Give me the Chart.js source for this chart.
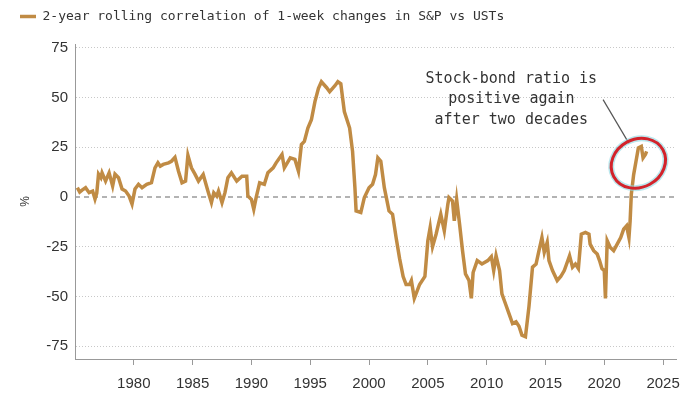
<!DOCTYPE html>
<html>
<head>
<meta charset="utf-8">
<script src="https://cdn.jsdelivr.net/npm/chart.js@4.4.0/dist/chart.umd.min.js"></script>
<style>
  body { margin: 0; background: #fff; }
  #wrap { position: relative; width: 700px; height: 394px; }
</style>
</head>
<body>
<div id="wrap"><canvas id="corrChart"></canvas></div>
<script>
// weekly 2y rolling correlation (year, %)
const years = [
  1975.2, 1975.4, 1975.6, 1975.9, 1976.2, 1976.5, 1976.7, 1976.85, 1977.0, 1977.2,
  1977.3, 1977.6, 1977.9, 1978.2, 1978.4, 1978.7, 1979.0, 1979.3, 1979.6, 1979.85,
  1980.1, 1980.4, 1980.7, 1981.1, 1981.5, 1981.8, 1982.05, 1982.25, 1982.5, 1982.95,
  1983.2, 1983.5, 1983.8, 1984.1, 1984.4, 1984.6, 1984.9, 1985.2, 1985.5, 1985.9,
  1986.3, 1986.6, 1986.8, 1987.05, 1987.2, 1987.5, 1987.75, 1988.0, 1988.3, 1988.75,
  1989.2, 1989.6, 1989.7, 1990.0, 1990.2, 1990.4, 1990.7, 1991.1, 1991.4, 1991.85,
  1992.1, 1992.6, 1992.8, 1993.3, 1993.7, 1994.0, 1994.25, 1994.5, 1994.8, 1995.1,
  1995.4, 1995.7, 1995.95, 1996.1, 1996.4, 1996.65, 1996.9, 1997.1, 1997.35, 1997.6,
  1997.75, 1997.9, 1998.35, 1998.6, 1998.8, 1998.9, 1999.3, 1999.6, 2000.0, 2000.3,
  2000.55, 2000.75, 2001.0, 2001.3, 2001.7, 2002.0, 2002.3, 2002.6, 2002.9, 2003.15,
  2003.45, 2003.6, 2003.85, 2004.3, 2004.75, 2005.0, 2005.2, 2005.4, 2005.7, 2006.1,
  2006.4, 2006.7, 2006.8, 2007.1, 2007.25, 2007.45, 2007.7, 2007.95, 2008.2, 2008.5,
  2008.7, 2008.85, 2009.2, 2009.6, 2010.1, 2010.4, 2010.6, 2010.8, 2011.1, 2011.3,
  2011.6, 2011.9, 2012.2, 2012.5, 2012.75, 2013.0, 2013.3, 2013.6, 2013.9, 2014.2,
  2014.45, 2014.7, 2014.9, 2015.15, 2015.3, 2015.6, 2016.0, 2016.3, 2016.6, 2016.8,
  2017.05, 2017.3, 2017.55, 2017.8, 2018.05, 2018.4, 2018.7, 2018.8, 2019.1, 2019.4,
  2019.6, 2019.8, 2020.0, 2020.1, 2020.25, 2020.5, 2020.8, 2021.1, 2021.4, 2021.65,
  2021.9, 2022.1, 2022.2, 2022.3, 2022.5, 2022.7, 2022.9, 2023.15, 2023.3, 2023.5,
  2023.6
];
const corr = [
  4.7, 2.5, 3.5, 4.7, 2.2, 3, -1, 2, 11.5, 9.7,
  12.2, 8, 12.2, 5.5, 11.5, 9.7, 4, 3, 0.5, -3.5,
  4, 6.4, 4.7, 6.4, 7.2, 14.7, 17.2, 15.5, 16.4, 17.2,
  18, 20, 13, 7.2, 8, 21, 14.7, 11.5, 8, 11.3,
  3, -2.8, 2.2, 0.5, 3, -2.8, 2.2, 9.7, 12.2, 8,
  10.5, 10.5, 0.5, -1.2, -6.2, -0.3, 7.2, 6.4, 12.2, 14.7,
  17.2, 21.4, 14.7, 19.7, 18.9, 13, 26.4, 28, 34.7, 38.9,
  48, 54.7, 58, 57, 55, 53, 54.7, 56, 58, 57,
  50, 43, 34.7, 23, 4.7, -7, -7.8, -0.3, 4.7, 6.4,
  11.3, 19.7, 18, 4.7, -7, -8.7, -20.4, -31, -40, -44,
  -44, -42, -51, -44, -40, -22, -15.3, -25, -18.7, -8.7,
  -17, -3.7, -0.3, -2, -12, -1.2, -13.7, -27, -38.7, -42,
  -51, -38, -32, -33.7, -32, -30, -37, -29.5, -37, -48.7,
  -53.7, -58.7, -63.7, -62.8, -65, -69.5, -70.3, -55, -35.3, -33.7,
  -27, -20.4, -27.8, -22.8, -32, -37, -42, -40, -37, -33.7,
  -29.5, -35.3, -33.7, -36, -18.7, -17.8, -18.7, -23.7, -27, -28.7,
  -32, -36, -37, -51, -22, -25.3, -27, -23.7, -20.4, -16.2,
  -14.5, -20.4, -12, 1.3, 11.3, 18, 24.7, 25.5, 19.7, 21.4,
  23
];
const xTicks = [1980, 1985, 1990, 1995, 2000, 2005, 2010, 2015, 2020, 2025];
const yTicks = [-75, -50, -25, 0, 25, 50, 75];
const seriesLabel = '2-year rolling correlation of 1-week changes in S&P vs USTs';
const noteLines = ['Stock-bond ratio is', 'positive again', 'after two decades'];

const lineColor = '#C08B44';

// push the plot down a bit below the legend
const legendGap = {
  id: 'legendGap',
  beforeInit(chart) {
    const fit = chart.legend.fit;
    chart.legend.fit = function () {
      fit.call(this);
      this.height += 11;
    };
  }
};

// dashed zero line + the note with the red ring
const notePlugin = {
  id: 'note',
  beforeDatasetsDraw(chart) {
    const { ctx, chartArea, scales } = chart;
    const y0 = scales.y.getPixelForValue(0);
    ctx.save();
    ctx.strokeStyle = '#9a9a9a';
    ctx.lineWidth = 1.5;
    ctx.setLineDash([5, 4]);
    ctx.beginPath();
    ctx.moveTo(chartArea.left, y0);
    ctx.lineTo(chartArea.right, y0);
    ctx.stroke();
    ctx.restore();
  },
  afterDatasetsDraw(chart) {
    const { ctx, scales } = chart;
    const x = scales.x, y = scales.y;
    ctx.save();
    ctx.font = '15px "DejaVu Sans Mono", monospace';
    ctx.fillStyle = '#333';
    ctx.textAlign = 'center';
    ctx.textBaseline = 'middle';
    const tx = x.getPixelForValue(2012.1);
    noteLines.forEach((t, i) => {
      ctx.fillText(t, tx, y.getPixelForValue(59.5 - i * 10.3));
    });
    // pointer
    ctx.strokeStyle = '#555';
    ctx.lineWidth = 1.2;
    ctx.beginPath();
    ctx.moveTo(x.getPixelForValue(2019.9), y.getPixelForValue(49));
    ctx.lineTo(x.getPixelForValue(2022.1), y.getPixelForValue(27));
    ctx.stroke();
    // ring
    const cx = x.getPixelForValue(2022.9), cy = y.getPixelForValue(17);
    ctx.beginPath();
    ctx.ellipse(cx, cy, 28, 24, -0.5, 0, Math.PI * 2);
    ctx.strokeStyle = 'rgba(140, 215, 225, 0.6)';
    ctx.lineWidth = 6;
    ctx.stroke();
    ctx.strokeStyle = '#D3232B';
    ctx.lineWidth = 3;
    ctx.stroke();
    ctx.restore();
  }
};

const tickFont = { family: '"Liberation Sans", Arial, sans-serif', size: 15 };

new Chart(document.getElementById('corrChart'), {
  type: 'line',
  data: {
    datasets: [{
      label: seriesLabel,
      data: years.map((yr, i) => ({ x: yr, y: corr[i] })),
      borderColor: lineColor,
      backgroundColor: lineColor,
      borderWidth: 3.5,
      pointRadius: 0,
      tension: 0
    }]
  },
  options: {
    responsive: true,
    maintainAspectRatio: false,
    animation: false,
    layout: { padding: { left: 10, right: 24, top: 0, bottom: 0 } },
    plugins: {
      legend: {
        position: 'top',
        align: 'start',
        labels: {
          usePointStyle: true,
          pointStyle: 'line',
          pointStyleWidth: 16,
          boxHeight: 3,
          padding: 10,
          color: '#333',
          font: { family: '"DejaVu Sans Mono", monospace', size: 13 }
        }
      },
      tooltip: { enabled: false }
    },
    scales: {
      x: {
        type: 'linear',
        min: 1975,
        max: 2026.1,
        afterBuildTicks: s => { s.ticks = xTicks.map(v => ({ value: v })); },
        afterFit: s => { s.height = 35; },
        ticks: { color: '#333', font: tickFont, padding: 10, maxRotation: 0, callback: v => String(v) },
        grid: { drawOnChartArea: false, drawTicks: true, tickLength: 6, tickColor: '#999' },
        border: { color: '#999', width: 1 }
      },
      y: {
        min: -81.5,
        max: 77,
        afterBuildTicks: s => { s.ticks = yTicks.map(v => ({ value: v })); },
        afterFit: s => { s.width = 65; },
        ticks: { color: '#333', font: tickFont, padding: 7, callback: v => String(v) },
        grid: {
          drawTicks: false,
          color: c => (c.tick && c.tick.value === 0 ? 'rgba(0,0,0,0)' : '#c8c8c8'),
          lineWidth: 1
        },
        border: { color: '#999', width: 1, dash: [1, 2] },
        title: {
          display: true,
          text: '%',
          color: '#333',
          font: { family: '"Liberation Sans", Arial, sans-serif', size: 12 },
          padding: { top: 8, bottom: 0 }
        }
      }
    }
  },
  plugins: [legendGap, notePlugin]
});
</script>
</body>
</html>
